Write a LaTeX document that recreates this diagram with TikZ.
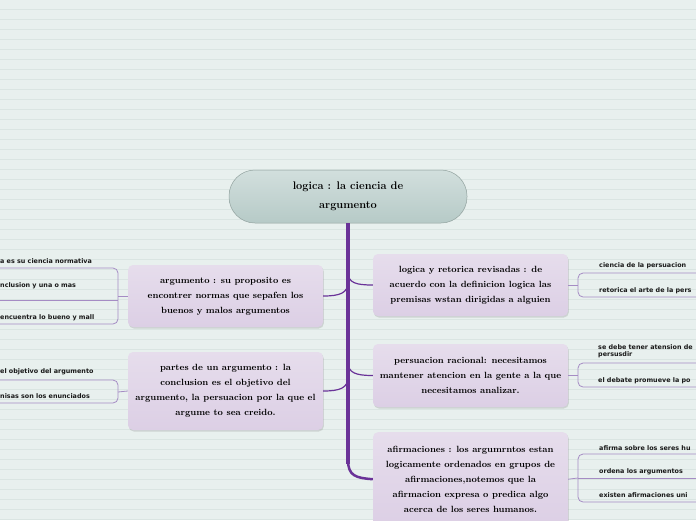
\documentclass[tikz,border=0pt]{standalone}
\usepackage{fontspec}
\newfontfamily\leaffont{DejaVu Sans}
\usetikzlibrary{shadows}
\definecolor{paper}{HTML}{E8F0EE}
\definecolor{ruled}{HTML}{DAE5E2}
\definecolor{trunkc}{HTML}{6A3398}
\definecolor{leafc}{HTML}{A58CC4}
\definecolor{boxtop}{HTML}{E6DDEC}
\definecolor{boxbot}{HTML}{DCCFE5}
\definecolor{roottop}{HTML}{D2DFDD}
\definecolor{rootbot}{HTML}{B6CAC7}
\tikzset{
  topic/.style={rectangle,rounded corners=5pt,minimum width=195pt,inner sep=0pt,
    top color=boxtop,bottom color=boxbot,align=center,
    font=\fontsize{9}{15}\selectfont\bfseries,
    drop shadow={opacity=0.25,shadow xshift=0.8pt,shadow yshift=-1.5pt}},
  branch/.style={trunkc,line width=1.2pt},
  leafline/.style={leafc,line width=0.8pt,rounded corners=5pt},
  leaf/.style={anchor=west,inner sep=0pt,text=black!90,
    font=\leaffont\bfseries\fontsize{6.4}{7}\selectfont}
}
\begin{document}
\begin{tikzpicture}[x=1pt,y=-1pt]
\useasboundingbox (0,0) rectangle (696,520);
\clip (0,0) rectangle (696,520);
\fill[paper] (0,0) rectangle (696,520);
\foreach \y in {9.5,19.5,...,519.5}
  \draw[ruled,line width=0.6pt] (0,\y) -- (696,\y);

% central topic
\node[rectangle,rounded corners=26pt,minimum width=238pt,minimum height=53pt,
  top color=roottop,bottom color=rootbot,draw=rootbot!80!black,line width=0.5pt,
  align=center,font=\fontsize{11}{19}\selectfont\bfseries] (root) at (348,196.5)
  {logica : la ciencia de\\argumento};

% main topics
\node[topic,minimum height=62pt] (arg) at (225.5,296)
  {argumento : su proposito es\\encontrer normas que sepafen los\\buenos y malos argumentos};
\node[topic,minimum height=78pt] (partes) at (225.5,391)
  {partes de un argumento : la\\conclusion es el objetivo del\\argumento, la persuacion por la que el\\argume to sea creido.};
\node[topic,minimum height=62pt] (logret) at (470.5,285)
  {logica y retorica revisadas : de\\acuerdo con la definicion logica las\\premisas wstan dirigidas a alguien};
\node[topic,minimum height=63pt] (persu) at (470.5,375.5)
  {persuacion racional: necesitamos\\mantener atencion en la gente a la que\\necesitamos analizar.};
\node[topic,minimum height=94pt,anchor=north] (afirm) at (470.5,432)
  {afirmaciones : los argumrntos estan\\logicamente ordenados en grupos de\\afirmaciones,notemos que la\\afirmacion expresa o predica algo\\acerca de los seres humanos.};

% trunk and branches
\coordinate (tbend) at (348,464);
\draw[trunkc,line width=4.5pt] (root.south) -- (tbend);
\draw[trunkc,line width=2.5pt] (348,460) .. controls (348,476) and (356,478) .. (afirm.west);
\draw[branch] (348,272) .. controls (348,283) and (356,285) .. (logret.west);
\draw[branch] (348,282) .. controls (348,293) and (340,296) .. (arg.east);
\draw[branch] (348,362) .. controls (348,373) and (356,375.5) .. (persu.west);
\draw[branch] (348,377) .. controls (348,388) and (340,391) .. (partes.east);

% left leaves
\coordinate (la) at (118,296);
\coordinate (lb) at (118,392);
\draw[leafline] (arg.west) -- (la);
\draw[leafline] (0,268) -- (118,268) -- (118,324) -- (0,324);
\draw[leafline] (0,300) -- (118,300);
\draw[leafline] (partes.west) -- (lb);
\draw[leafline] (0,380) -- (118,380) -- (118,403) -- (0,403);
\node[leaf] (l1) at (0,261) {a es su ciencia normativa};
\node[leaf] (l2) at (0,286) {nclusion y una o mas};
\node[leaf] (l3) at (0,318) {encuentra lo bueno y mall};
\node[leaf] (l4) at (0,372) {el objetivo del argumento};
\node[leaf] (l5) at (0,396) {nisas son los enunciados};

% right leaves
\coordinate (ra) at (578,285);
\coordinate (rb) at (578,375.5);
\coordinate (rc) at (578,478);
\draw[leafline] (logret.east) -- (ra);
\draw[leafline] (696,273) -- (578,273) -- (578,297) -- (696,297);
\draw[leafline] (persu.east) -- (rb);
\draw[leafline] (696,363) -- (578,363) -- (578,387) -- (696,387);
\draw[leafline] (afirm.east) -- (rc);
\draw[leafline] (696,454) -- (578,454) -- (578,502) -- (696,502);
\draw[leafline] (578,478) -- (696,478);
\node[leaf] (r1) at (599,266) {ciencia de la persuacion};
\node[leaf] (r2) at (599,291) {retorica el arte de la pers};
\node[leaf,align=left] (r3) at (598,351.5) {se debe tener atension de\\persusdir};
\node[leaf] (r4) at (598,381) {el debate promueve la po};
\node[leaf] (r5) at (599,448) {afirma sobre los seres hu};
\node[leaf] (r6) at (599,472) {ordena los argumentos};
\node[leaf] (r7) at (599,495) {existen afirmaciones uni};
\end{tikzpicture}
\end{document}
